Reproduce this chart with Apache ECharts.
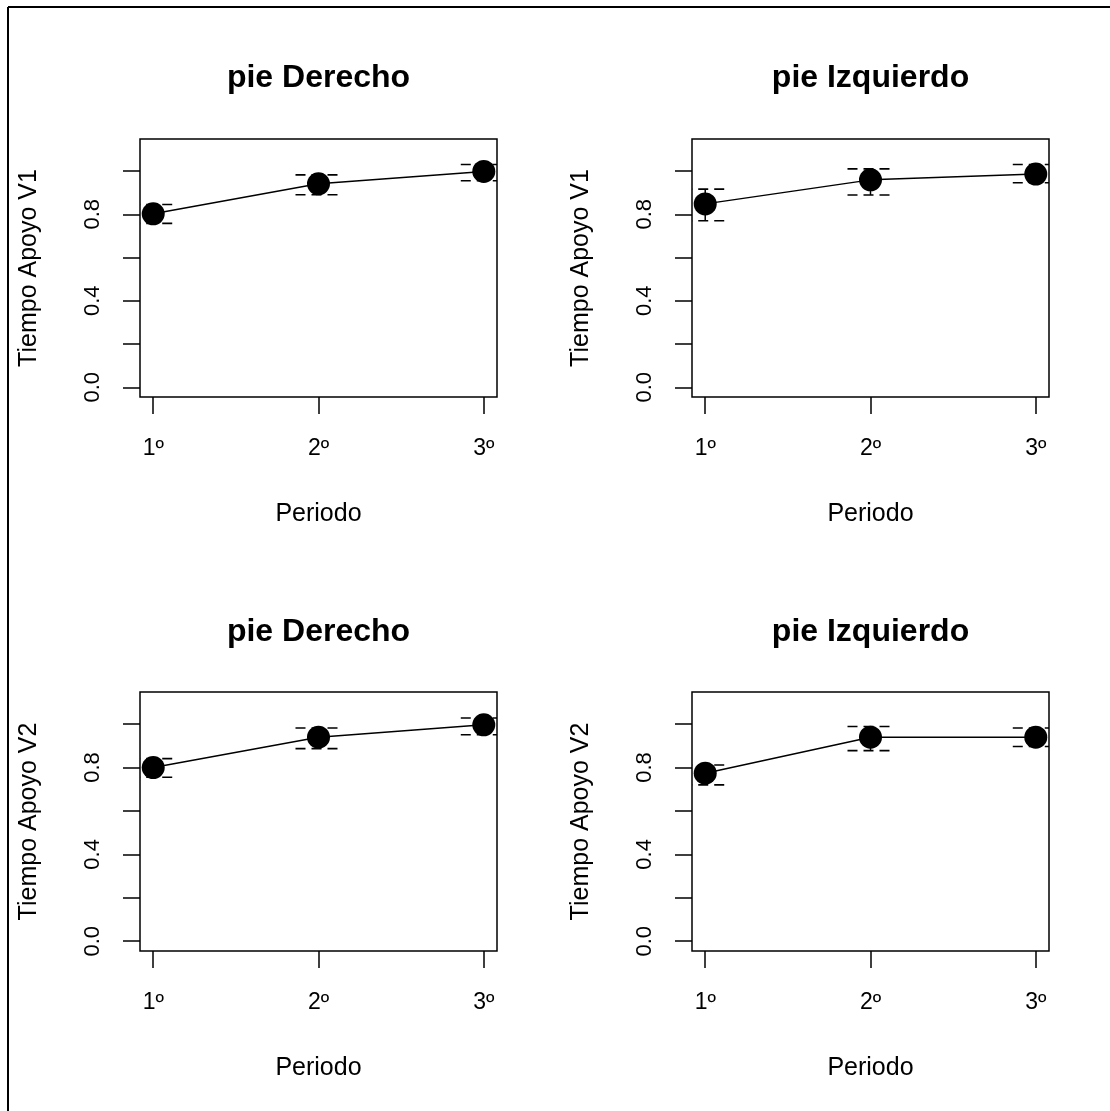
<!DOCTYPE html>
<html>
<head>
<meta charset="utf-8">
<script src="https://cdn.jsdelivr.net/npm/echarts@6/dist/echarts.min.js"></script>
<style>
html,body{margin:0;padding:0;background:#fff;}
#main{width:1110px;height:1111px;}
</style>
</head>
<body>
<div id="main"></div>
<script>
// ---- data ----
var periods = [1, 2, 3];
var xTickLabels = ['1º', '2º', '3º'];
var yTickValues = [0, 0.2, 0.4, 0.6, 0.8, 1.0];
var yLabelValues = [0, 0.4, 0.8];
var panelTitles = ['pie Derecho', 'pie Izquierdo', 'pie Derecho', 'pie Izquierdo'];
var yNames = ['Tiempo Apoyo V1', 'Tiempo Apoyo V1', 'Tiempo Apoyo V2', 'Tiempo Apoyo V2'];
var xName = 'Periodo';

var derechoV1Mean = [0.802, 0.941, 0.998];
var derechoV1Low  = [0.758, 0.890, 0.955];
var derechoV1High = [0.845, 0.982, 1.030];

var izquierdoV1Mean = [0.848, 0.959, 0.986];
var izquierdoV1Low  = [0.770, 0.889, 0.946];
var izquierdoV1High = [0.916, 1.010, 1.030];

var derechoV2Mean = [0.800, 0.940, 0.997];
var derechoV2Low  = [0.755, 0.887, 0.951];
var derechoV2High = [0.841, 0.982, 1.028];

var izquierdoV2Mean = [0.774, 0.940, 0.940];
var izquierdoV2Low  = [0.720, 0.878, 0.897];
var izquierdoV2High = [0.812, 0.989, 0.982];

var panels = [
  {mean: derechoV1Mean, low: derechoV1Low, high: derechoV1High},
  {mean: izquierdoV1Mean, low: izquierdoV1Low, high: izquierdoV1High},
  {mean: derechoV2Mean, low: derechoV2Low, high: derechoV2High},
  {mean: izquierdoV2Mean, low: izquierdoV2Low, high: izquierdoV2High}
];

// ---- layout ----
var gridBoxes = [
  {left: 140, top: 139, width: 357, height: 258},
  {left: 692, top: 139, width: 357, height: 258},
  {left: 140, top: 692, width: 357, height: 259},
  {left: 692, top: 692, width: 357, height: 259}
];
var titleTops = [57, 57, 611, 611];
var FONT = 'Liberation Sans, Arial, sans-serif';

var grids = [], xAxes = [], yAxes = [], series = [], titles = [];
gridBoxes.forEach(function (g, i) {
  grids.push({left: g.left, top: g.top, width: g.width, height: g.height,
    show: true, borderColor: '#000', borderWidth: 1.5, backgroundColor: 'transparent', containLabel: false});
  titles.push({text: panelTitles[i], left: g.left + g.width / 2 - 5, top: titleTops[i], textAlign: 'center',
    textStyle: {fontFamily: FONT, fontWeight: 'bold', fontSize: 32, color: '#000'}});
  xAxes.push({
    type: 'value', gridIndex: i, min: 0.92, max: 3.08, position: 'bottom',
    splitLine: {show: false},
    axisLine: {show: false, onZero: false},
    axisTick: {show: true, customValues: periods, length: 17, inside: false, lineStyle: {color: '#000', width: 1.5}},
    axisLabel: {show: true, customValues: periods, margin: 40, color: '#000', fontFamily: FONT, fontSize: 23,
      formatter: function (v) { return xTickLabels[Math.round(v) - 1]; }},
    name: xName, nameLocation: 'middle', nameGap: 105,
    nameTextStyle: {color: '#000', fontFamily: FONT, fontSize: 25}
  });
  yAxes.push({
    type: 'value', gridIndex: i, min: -0.045, max: 1.148, position: 'left',
    splitLine: {show: false},
    axisLine: {show: false, onZero: false},
    axisTick: {show: true, customValues: yTickValues, length: 17, inside: false, lineStyle: {color: '#000', width: 1.5}},
    axisLabel: {show: true, customValues: yLabelValues, rotate: 90, margin: 36, color: '#000', fontFamily: FONT, fontSize: 22,
      formatter: function (v) { return v.toFixed(1); }},
    name: yNames[i], nameLocation: 'middle', nameGap: 98, nameRotate: 90,
    nameTextStyle: {color: '#000', fontFamily: FONT, fontSize: 25}
  });
  var p = panels[i];
  series.push({
    type: 'line', xAxisIndex: i, yAxisIndex: i,
    data: periods.map(function (x, k) { return [x, p.mean[k]]; }),
    symbol: 'circle', symbolSize: 23,
    itemStyle: {color: '#000'},
    lineStyle: {color: '#000', width: 1.5},
    animation: false, silent: true, z: 3
  });
  series.push({
    type: 'custom', xAxisIndex: i, yAxisIndex: i, clip: true,
    data: periods.map(function (x, k) { return [x, p.low[k], p.high[k]]; }),
    renderItem: function (params, api) {
      var lo = api.coord([api.value(0), api.value(1)]);
      var hi = api.coord([api.value(0), api.value(2)]);
      var hw = 23;
      var dashed = {stroke: '#000', lineWidth: 1.6, lineDash: [10, 6]};
      return {
        type: 'group',
        children: [
          {type: 'line', shape: {x1: lo[0], y1: lo[1], x2: hi[0], y2: hi[1]}, style: {stroke: '#000', lineWidth: 1.5}},
          {type: 'line', shape: {x1: hi[0] - hw, y1: hi[1], x2: hi[0] + hw, y2: hi[1]}, style: dashed},
          {type: 'line', shape: {x1: lo[0] - hw, y1: lo[1], x2: lo[0] + hw, y2: lo[1]}, style: dashed}
        ]
      };
    },
    animation: false, silent: true, z: 2
  });
});

var chart = echarts.init(document.getElementById('main'), null, {renderer: 'canvas'});
chart.setOption({
  backgroundColor: '#fff',
  animation: false,
  title: titles,
  grid: grids,
  xAxis: xAxes,
  yAxis: yAxes,
  series: series,
  graphic: [
    {type: 'line', shape: {x1: 8, y1: 7, x2: 1110, y2: 7}, style: {stroke: '#000', lineWidth: 2}},
    {type: 'line', shape: {x1: 8, y1: 7, x2: 8, y2: 1111}, style: {stroke: '#000', lineWidth: 2}}
  ]
});
</script>
</body>
</html>
